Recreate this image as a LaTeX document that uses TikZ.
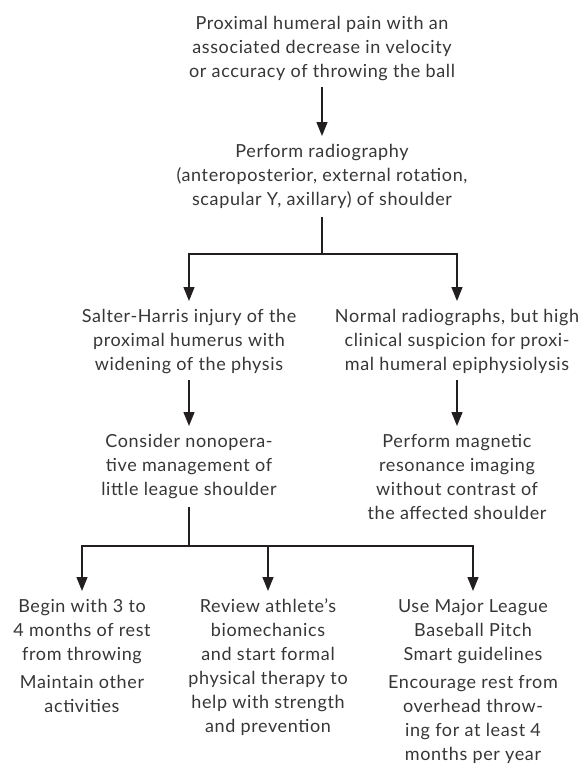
\documentclass[tikz,border=0pt]{standalone}
\usepackage{fontspec}
\setmainfont[LetterSpace=3.5]{Lato}
\usetikzlibrary{arrows.meta}
\definecolor{txt}{HTML}{363636}
\definecolor{ln}{HTML}{231F20}
\newcommand{\st}{\rule[-5pt]{0pt}{19pt}}
\begin{document}
\begin{tikzpicture}[x=1pt,y=-1pt,
  txtnode/.style={align=center, inner sep=0pt, outer sep=0pt, anchor=north, text=txt, font=\fontsize{18}{24}\selectfont},
  conn/.style={draw=ln, line width=1.3pt},
  arr/.style={conn, -{Triangle[length=14pt,width=11pt]}, shorten >=7pt},
]
\path[use as bounding box] (0,0) rectangle (587,764);

\node[txtnode] (top) at (322,15) {\st Proximal humeral pain with an\\associated decrease in velocity\\or accuracy of throwing the ball\st};
\node[txtnode] (rad) at (322,143) {\st Perform radiography\\(anteroposterior, external rotation,\\scapular Y, axillary) of shoulder\st};
\node[txtnode] (salter) at (189,308) {\st Salter-Harris injury of the\\proximal humerus with\\widening of the physis\st};
\node[txtnode] (normal) at (457,308) {\st Normal radiographs, but high\\clinical suspicion for proxi-\\mal humeral epiphysiolysis\st};
\node[txtnode] (consider) at (189,433) {\st Consider nonopera-\\tive management of\\little league shoulder\st};
\node[txtnode] (mri) at (457,433) {\st Perform magnetic\\resonance imaging\\without contrast of\\the affected shoulder\st};
\node[txtnode] (rest) at (82,598) {\st Begin with 3 to\\4 months of rest\\from throwing\\[4pt]Maintain other\\activities\st};
\node[txtnode] (bio) at (268,598) {\st Review athlete’s\\biomechanics\\and start formal\\physical therapy to\\help with strength\\and prevention\st};
\node[txtnode] (mlb) at (473,598) {\st Use Major League\\Baseball Pitch\\Smart guidelines\\[4pt]Encourage rest from\\overhead throw-\\ing for at least 4\\months per year\st};

\coordinate (j1) at (322,254);
\coordinate (j2) at (189,546);

\draw[arr, shorten <=5pt] (top.south) -- (rad.north);
\draw[conn, shorten <=7pt] (rad.south) -- (j1);
\draw[arr] (j1) -| (salter.north);
\draw[arr] (j1) -| (normal.north);
\draw[arr, shorten <=5pt] (salter.south) -- (consider.north);
\draw[arr, shorten <=5pt] (normal.south) -- (mri.north);
\draw[conn, shorten <=7pt] (consider.south) -- (j2);
\draw[arr] (j2) -| (rest.north);
\draw[arr] (j2) -| (bio.north);
\draw[arr] (j2) -| (mlb.north);
\end{tikzpicture}
\end{document}
